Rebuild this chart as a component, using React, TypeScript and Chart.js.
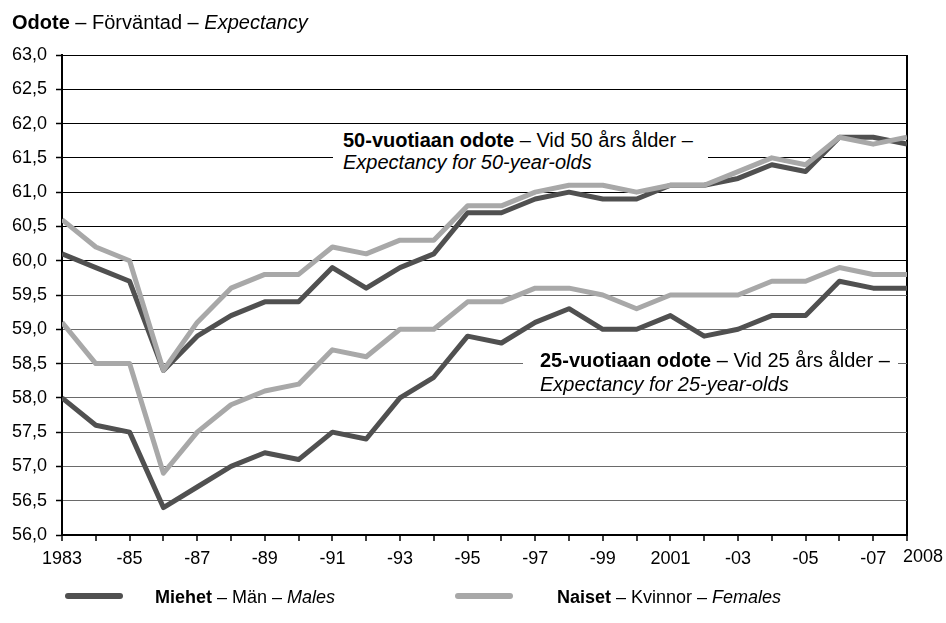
import React, { useEffect, useRef } from "react";
import { Chart, registerables } from "chart.js";

Chart.register(...registerables);

const years = [1983, 1984, 1985, 1986, 1987, 1988, 1989, 1990, 1991, 1992, 1993, 1994, 1995, 1996, 1997, 1998, 1999, 2000, 2001, 2002, 2003, 2004, 2005, 2006, 2007, 2008];
const men50 = [60.1, 59.9, 59.7, 58.4, 58.9, 59.2, 59.4, 59.4, 59.9, 59.6, 59.9, 60.1, 60.7, 60.7, 60.9, 61.0, 60.9, 60.9, 61.1, 61.1, 61.2, 61.4, 61.3, 61.8, 61.8, 61.7];
const women50 = [60.6, 60.2, 60.0, 58.4, 59.1, 59.6, 59.8, 59.8, 60.2, 60.1, 60.3, 60.3, 60.8, 60.8, 61.0, 61.1, 61.1, 61.0, 61.1, 61.1, 61.3, 61.5, 61.4, 61.8, 61.7, 61.8];
const men25 = [58.0, 57.6, 57.5, 56.4, 56.7, 57.0, 57.2, 57.1, 57.5, 57.4, 58.0, 58.3, 58.9, 58.8, 59.1, 59.3, 59.0, 59.0, 59.2, 58.9, 59.0, 59.2, 59.2, 59.7, 59.6, 59.6];
const women25 = [59.1, 58.5, 58.5, 56.9, 57.5, 57.9, 58.1, 58.2, 58.7, 58.6, 59.0, 59.0, 59.4, 59.4, 59.6, 59.6, 59.5, 59.3, 59.5, 59.5, 59.5, 59.7, 59.7, 59.9, 59.8, 59.8];
const xTickYears = [1983, 1985, 1987, 1989, 1991, 1993, 1995, 1997, 1999, 2001, 2003, 2005, 2007];
const xTickLabels = ["1983", "-85", "-87", "-89", "-91", "-93", "-95", "-97", "-99", "2001", "-03", "-05", "-07"];
const lastYearLabel = "2008";

const DARK = "#505050";
const LIGHT = "#a8a8a8";
const FONT = "'Liberation Sans', Arial, sans-serif";

const toPoints = (vals: number[]) => years.map((y, i) => ({ x: y, y: vals[i] }));

const lastLabelPlugin = {
  id: "lastLabel",
  afterDraw(chart: any) {
    const { ctx, scales } = chart;
    const xs = scales.x;
    const px = xs.getPixelForValue(2008);
    ctx.save();
    ctx.font = `18px ${FONT}`;
    ctx.fillStyle = "#000";
    ctx.textAlign = "right";
    ctx.textBaseline = "top";
    ctx.fillText(lastYearLabel, px + 36, chart.chartArea.bottom + 6 + 7);
    ctx.restore();
  },
};

export default function App() {
  const ref = useRef<HTMLCanvasElement>(null);

  useEffect(() => {
    if (!ref.current) return;
    const chart = new Chart(ref.current, {
      type: "line",
      data: {
        datasets: [
          { label: "Naiset 50", data: toPoints(women50), borderColor: LIGHT },
          { label: "Naiset 25", data: toPoints(women25), borderColor: LIGHT },
          { label: "Miehet 50", data: toPoints(men50), borderColor: DARK },
          { label: "Miehet 25", data: toPoints(men25), borderColor: DARK },
        ].map((d) => ({
          ...d,
          borderWidth: 5,
          pointRadius: 0,
          tension: 0,
          fill: false,
          borderJoinStyle: "round" as const,
        })),
      },
      options: {
        responsive: false,
        animation: false,
        events: [],
        layout: { padding: { left: 0, right: 39, top: 55, bottom: 0 } },
        plugins: { legend: { display: false }, tooltip: { enabled: false }, title: { display: false } },
        scales: {
          x: {
            type: "linear",
            min: 1983,
            max: 2008,
            afterFit: (s: any) => {
              s.height = 88;
            },
            ticks: {
              stepSize: 1,
              autoSkip: false,
              maxRotation: 0,
              minRotation: 0,
              padding: 7,
              color: "#000",
              font: { size: 18, family: FONT },
              callback: (v: any) => {
                const i = xTickYears.indexOf(Math.round(Number(v)));
                return i >= 0 ? xTickLabels[i] : "";
              },
            },
            grid: {
              drawOnChartArea: true,
              color: (c: any) => (c.tick && Math.round(c.tick.value) === 2008 ? "#000" : "rgba(0,0,0,0)"),
              lineWidth: 2,
              tickColor: "#000",
              tickWidth: 1.5,
              tickLength: 6,
            },
            border: { color: "#000", width: 2 },
          },
          y: {
            min: 56,
            max: 63,
            afterFit: (s: any) => {
              s.width = 62;
            },
            ticks: {
              stepSize: 0.5,
              padding: 9,
              color: "#000",
              font: { size: 18, family: FONT },
              callback: (v: any) => Number(v).toFixed(1).replace(".", ","),
            },
            grid: {
              color: (c: any) => (c.tick && c.tick.value >= 60 ? "#000" : "#6a6a6a"),
              lineWidth: 1,
              tickColor: "#000",
              tickWidth: 1.5,
              tickLength: 6,
            },
            border: { color: "#000", width: 2 },
          },
        },
      },
      plugins: [lastLabelPlugin],
    });
    return () => chart.destroy();
  }, []);

  const textStyle: React.CSSProperties = { fontFamily: FONT, color: "#000", whiteSpace: "nowrap" };

  return (
    <div style={{ position: "absolute", left: 0, top: 0, width: 946, height: 623, background: "#fff" }}>
      <canvas ref={ref} width={946} height={623} style={{ position: "absolute", left: 0, top: 0, width: 946, height: 623 }} />
      <div style={{ ...textStyle, position: "absolute", left: 12, top: 12, fontSize: 20, lineHeight: "20px" }}>
        <b>Odote</b> – Förväntad – <i>Expectancy</i>
      </div>
      <div style={{ position: "absolute", left: 333, top: 127, width: 375, height: 54, background: "#fff" }}>
        <div style={{ ...textStyle, position: "absolute", left: 10, top: 2, fontSize: 20, lineHeight: "22px" }}>
          <b>50-vuotiaan odote</b> – Vid 50 års ålder –
          <br />
          <i>Expectancy for 50-year-olds</i>
        </div>
      </div>
      <div style={{ position: "absolute", left: 523, top: 342, width: 375, height: 53, background: "#fff" }}>
        <div style={{ ...textStyle, position: "absolute", left: 17, top: 6, fontSize: 20, lineHeight: "24px" }}>
          <b>25-vuotiaan odote</b> – Vid 25 års ålder –
          <br />
          <i>Expectancy for 25-year-olds</i>
        </div>
      </div>
      <div style={{ position: "absolute", left: 65, top: 593, width: 58, height: 6, borderRadius: 3, background: DARK }} />
      <div style={{ ...textStyle, position: "absolute", left: 155, top: 587, fontSize: 18, lineHeight: "20px" }}>
        <b>Miehet</b> – Män – <i>Males</i>
      </div>
      <div style={{ position: "absolute", left: 455, top: 593, width: 58, height: 6, borderRadius: 3, background: LIGHT }} />
      <div style={{ ...textStyle, position: "absolute", left: 557, top: 587, fontSize: 18, lineHeight: "20px" }}>
        <b>Naiset</b> – Kvinnor – <i>Females</i>
      </div>
    </div>
  );
}
